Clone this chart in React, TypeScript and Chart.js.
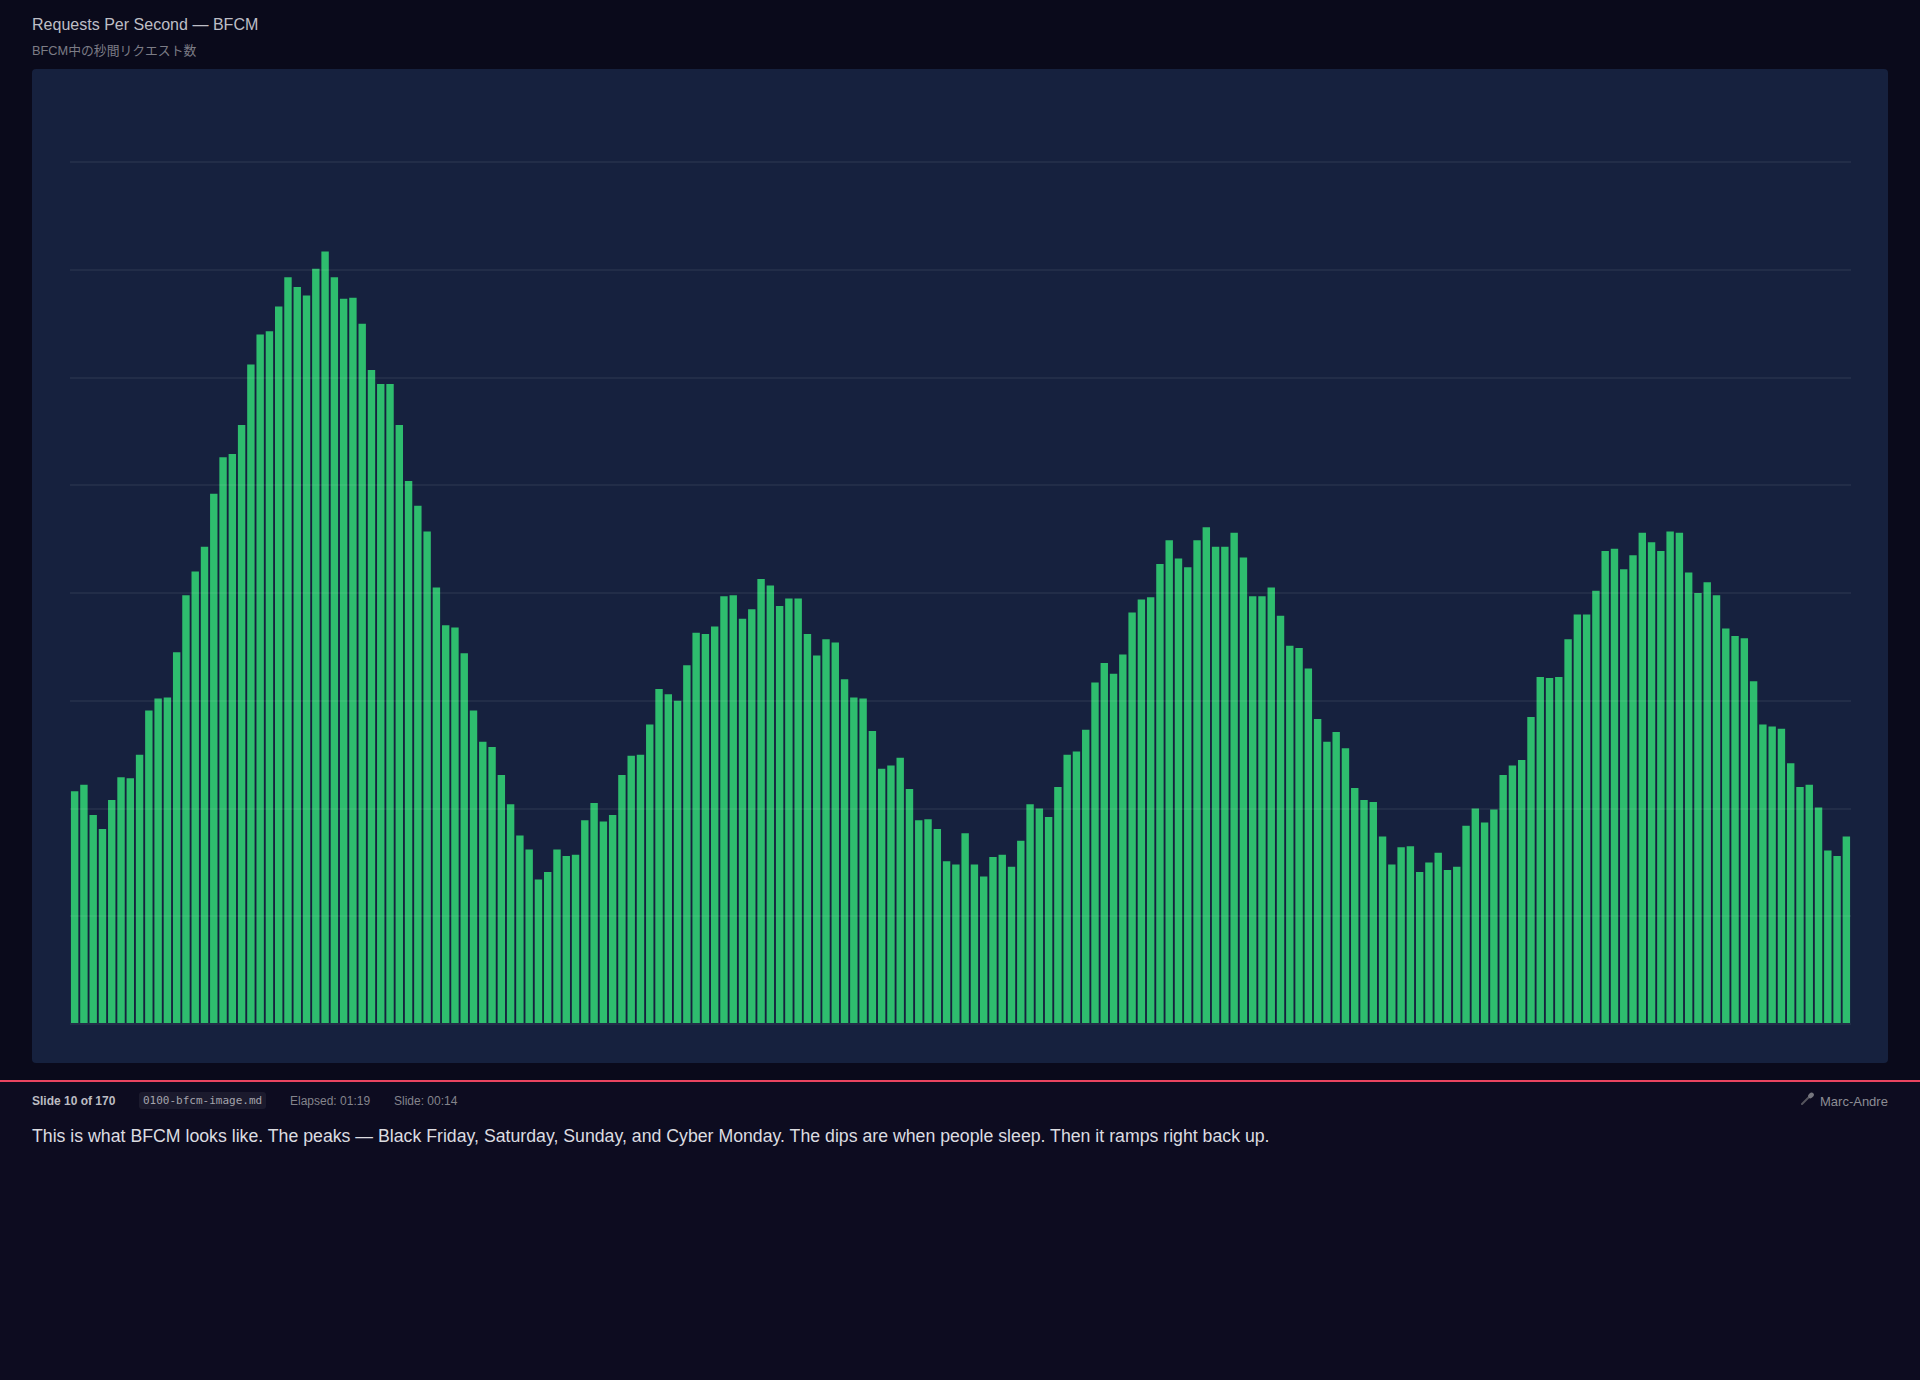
import React, { useEffect, useRef } from "react";
import { Chart, registerables } from "chart.js";

Chart.register(...registerables);

const requests: number[] = [
  216, 222, 194, 181, 208, 229, 228, 250, 291, 302, 303, 345, 398, 420, 443, 492, 526, 529, 556, 612,
  640, 643, 666, 693, 684, 676, 701, 717, 693, 673, 674, 650, 607, 594, 594, 556, 504, 481, 457, 405,
  370, 368, 344, 291, 262, 257, 231, 204, 175, 162, 134, 141, 162, 156, 157, 189, 205, 188, 194, 231,
  249, 250, 278, 311, 306, 300, 333, 363, 362, 369, 397, 398, 376, 385, 413, 407, 388, 395, 395, 362,
  342, 357, 354, 320, 303, 302, 272, 237, 240, 247, 218, 189, 190, 181, 151, 148, 177, 148, 137, 155,
  157, 146, 170, 204, 200, 192, 220, 250, 253, 273, 317, 335, 325, 343, 382, 394, 396, 427, 449, 432,
  424, 449, 461, 443, 443, 456, 433, 397, 397, 405, 379, 351, 349, 330, 283, 262, 271, 256, 219, 208,
  206, 174, 148, 164, 165, 141, 150, 159, 143, 146, 184, 200, 187, 199, 231, 240, 245, 285, 322, 321,
  322, 357, 380, 380, 402, 439, 441, 422, 435, 456, 447, 439, 457, 456, 419, 400, 410, 398, 367, 360,
  358, 318, 278, 276, 274, 242, 220, 222, 201, 161, 156, 174,
];
const slots: string[] = requests.map((_, i) => String(i));

const titleText = "Requests Per Second — BFCM";
const subtitleText = "BFCM中の秒間リクエスト数";
const noteText =
  "This is what BFCM looks like. The peaks — Black Friday, Saturday, Sunday, and Cyber Monday. The dips are when people sleep. Then it ramps right back up.";

const sans = '"Liberation Sans", Arial, sans-serif';

function text(left: number, top: number, size: number, color: string, extra: React.CSSProperties = {}): React.CSSProperties {
  return { position: "absolute", left, top, fontSize: size, lineHeight: `${Math.round(size * 1.3)}px`, color, whiteSpace: "nowrap", fontFamily: sans, ...extra };
}

export default function App() {
  const ref = useRef<HTMLCanvasElement>(null);

  useEffect(() => {
    document.body.style.margin = "0";
    document.body.style.background = "#0d0c20";
    const chart = new Chart(ref.current!, {
      type: "bar",
      data: {
        labels: slots,
        datasets: [
          {
            data: requests,
            backgroundColor: "#2ebd6e",
            borderWidth: 0,
            barPercentage: 0.8,
            categoryPercentage: 1,
          },
        ],
      },
      options: {
        animation: false,
        responsive: false,
        devicePixelRatio: 1,
        layout: { padding: { left: 38, right: 37, top: 93, bottom: 39 } },
        plugins: { legend: { display: false }, tooltip: { enabled: false }, title: { display: false } },
        scales: {
          x: { display: false, grid: { display: false } },
          y: {
            min: 0,
            max: 800,
            ticks: { display: false, stepSize: 100 },
            border: { display: false },
            grid: { color: "rgba(255,255,255,0.055)", lineWidth: 2, drawTicks: false, z: 1 },
          },
        },
      },
    });
    return () => chart.destroy();
  }, []);

  return (
    <div style={{ position: "relative", width: 1920, height: 1380, overflow: "hidden", background: "#0d0c20" }}>
      <div style={{ position: "absolute", left: 0, top: 0, width: 1920, height: 1080, background: "#0a0a1b" }} />
      <div style={text(32, 14, 16.05, "#bebec6")}>{titleText}</div>
      <div style={text(32, 42, 12.8, "#7c7c86", { fontFamily: '"Liberation Sans", "Noto Sans CJK JP", sans-serif' })}>{subtitleText}</div>
      <div style={{ position: "absolute", left: 32, top: 69, width: 1856, height: 994, background: "#16213e", borderRadius: 4 }}>
        <canvas ref={ref} width={1856} height={994} style={{ display: "block", width: 1856, height: 994 }} />
      </div>
      <div style={{ position: "absolute", left: 0, top: 1080, width: 1920, height: 2, background: "#e94560" }} />
      <div style={text(32, 1093, 12, "#bcbcc2", { fontWeight: 700 })}>Slide 10 of 170</div>
      <div
        style={text(139, 1092, 11, "#a4a4ac", {
          fontFamily: '"DejaVu Sans Mono", monospace',
          background: "rgba(255,255,255,0.06)",
          padding: "1.5px 4px",
          borderRadius: 3,
        })}
      >
        0100-bfcm-image.md
      </div>
      <div style={text(290, 1093, 12, "#84848c")}>Elapsed: 01:19</div>
      <div style={text(394, 1093, 12, "#84848c")}>Slide: 00:14</div>
      <svg style={{ position: "absolute", left: 1800, top: 1092 }} width={15} height={13} viewBox="0 0 15 13">
        <line x1={2} y1={12} x2={9} y2={5} stroke="#55555d" strokeWidth={2} strokeLinecap="round" />
        <ellipse cx={11} cy={3.4} rx={3.2} ry={2.4} transform="rotate(-45 11 3.4)" fill="#76767e" />
      </svg>
      <div style={text(1820, 1093, 13, "#8c8c94")}>Marc-Andre</div>
      <div style={text(32, 1124.5, 17.72, "#dcdce0")}>{noteText}</div>
    </div>
  );
}
